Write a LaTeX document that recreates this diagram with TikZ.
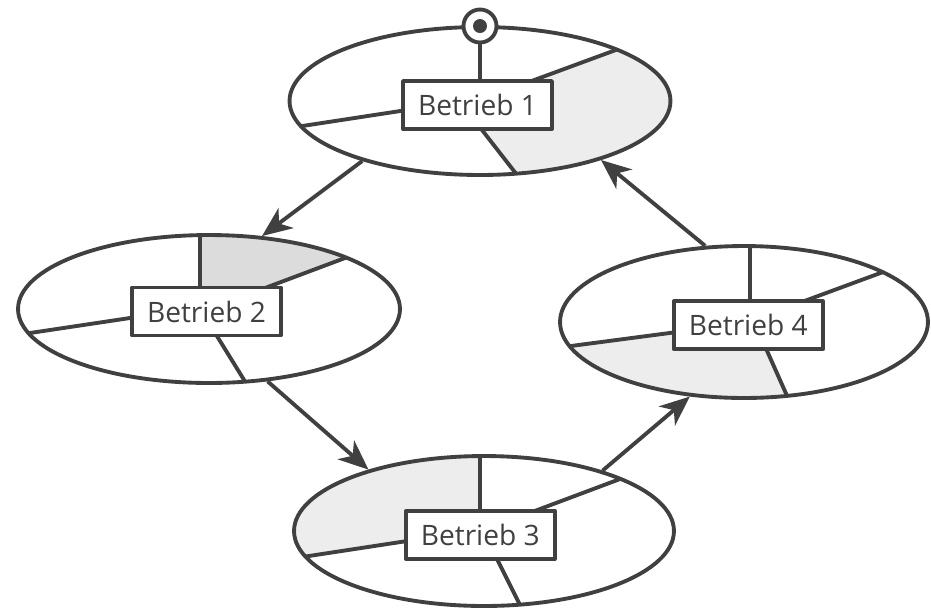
\documentclass[tikz,border=0pt]{standalone}
\usepackage{fontspec}
\setmainfont{Open Sans}
\usepackage{tikz}
\usetikzlibrary{arrows.meta,shapes.geometric}
\definecolor{ink}{HTML}{404040}
\definecolor{hell}{HTML}{EDEDED}
\definecolor{mittel}{HTML}{DCDCDC}
\tikzset{scheibe/.style={ellipse,draw=ink,line width=2.2pt,inner sep=0pt},
  betrieb/.style={rectangle,draw=ink,line width=2.2pt,fill=white,text=ink,inner sep=0pt,
    minimum width=2.98cm,minimum height=0.96cm,font=\fontsize{16}{19}\selectfont},
  pfeil/.style={ink,line width=2.2pt,-{Stealth[length=0.6cm,width=0.5cm,inset=0.18cm]}}}

\begin{document}
\begin{tikzpicture}[x=0.02cm,y=-0.02cm,line join=round]
\useasboundingbox (0,0) rectangle (931,610);
% --- Betrieb 1: right part shaded
\begin{scope}
\clip (480,101) ellipse [x radius=190.5,y radius=74];
\fill[hell] (700,20) -- (617,50) -- (538,79) -- (483,131) -- (517,175) -- (535,198) -- (700,198) -- cycle;
\draw[ink,line width=2.2pt] (420,108) -- (250,134); \draw[ink,line width=2.2pt] (518,86) -- (700,19); \draw[ink,line width=2.2pt] (475,121) -- (535,198);
\end{scope}
\node[scheibe,minimum width=7.62cm,minimum height=2.96cm] (e1) at (480,101) {};
\node[betrieb] (b1) at (477.5,105) {Betrieb 1};
\node[circle,draw=ink,line width=2.2pt,fill=white,minimum size=0.66cm,inner sep=0pt] (pin) at (480,26) {};
\node[circle,fill=ink,minimum size=0.28cm,inner sep=0pt] (kern) at (pin) {};
\draw[ink,line width=2.2pt] (pin.south) -- (pin.south |- b1.north);
% --- Betrieb 2: top sector shaded
\begin{scope}
\clip (209,309) ellipse [x radius=191,y radius=74];
\fill[mittel] (200,200) -- (200,300) -- (237,298.5) -- (417,231) -- (417,200) -- cycle;
\draw[ink,line width=2.2pt] (200,300) -- (200,200); \draw[ink,line width=2.2pt] (237,298.5) -- (417,231); \draw[ink,line width=2.2pt] (160,313.5) -- (-20,340.5); \draw[ink,line width=2.2pt] (212,328) -- (262,409);
\end{scope}
\node[scheibe,minimum width=7.64cm,minimum height=2.96cm] (e2) at (209,309) {};
\node[betrieb] (b2) at (206.5,311.5) {Betrieb 2};
% --- Betrieb 3: top left sector shaded
\begin{scope}
\clip (484,531) ellipse [x radius=190,y radius=75];
\fill[hell] (480,420) -- (480,520) -- (440,536) -- (240,566.5) -- (240,420) -- cycle;
\draw[ink,line width=2.2pt] (480,520) -- (480,420); \draw[ink,line width=2.2pt] (500,524) -- (720,441.5); \draw[ink,line width=2.2pt] (440,536) -- (240,566.5); \draw[ink,line width=2.2pt] (490,545) -- (535,635);
\end{scope}
\node[scheibe,minimum width=7.6cm,minimum height=3.0cm] (e3) at (484,531) {};
\node[betrieb] (b3) at (480.3,535) {Betrieb 3};
% --- Betrieb 4: bottom left sector shaded
\begin{scope}
\clip (744,322) ellipse [x radius=184,y radius=76];
\fill[hell] (520,352.7) -- (700,329) -- (760,335) -- (800,425) -- (520,425) -- cycle;
\draw[ink,line width=2.2pt] (750,315) -- (750,200); \draw[ink,line width=2.2pt] (780,310) -- (970,240); \draw[ink,line width=2.2pt] (700,329) -- (520,352.7); \draw[ink,line width=2.2pt] (760,335) -- (800,425);
\end{scope}
\node[scheibe,minimum width=7.36cm,minimum height=3.04cm] (e4) at (744,322) {};
\node[betrieb] (b4) at (748.3,325.3) {Betrieb 4};
% --- cycle of arrows
\draw[pfeil] (e1.207) -- (e2.54);
\draw[pfeil] (e2.309) -- (e3.152);
\draw[pfeil] (e3.27) -- (e4.234);
\draw[pfeil] (e4.117) -- (e1.334);
\end{tikzpicture}
\end{document}
